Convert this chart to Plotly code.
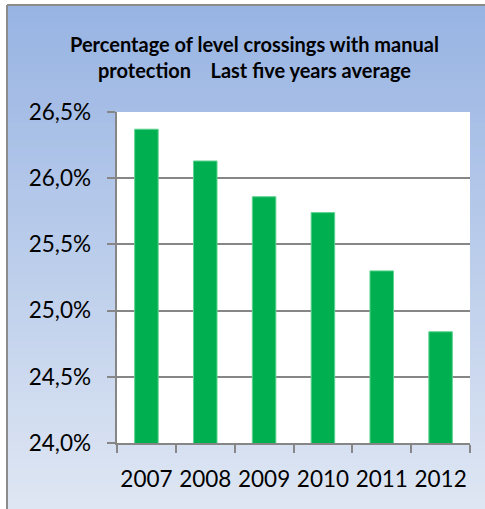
"""
Percentage of level crossings with manual protection
"""

import plotly.graph_objects as go

years = ["2007", "2008", "2009", "2010", "2011", "2012"]
share_manual = [26.37, 26.13, 25.86, 25.74, 25.30, 24.84]
y_ticks = [24.0, 24.5, 25.0, 25.5, 26.0, 26.5]
y_tick_labels = ["24,0%", "24,5%", "25,0%", "25,5%", "26,0%", "26,5%"]

title = (
    "<b>Percentage of level crossings with manual<br>"
    "protection\u00a0\u00a0\u00a0\u00a0Last five years average</b>"
)

W, H = 485, 509
L, R, T, B = 117, 15, 112, 66
pw, ph = W - L - R, H - T - B


def px_x(px):
    return (px - L) / pw


def px_y(py):
    return (H - B - py) / ph


fig = go.Figure()

fig.add_trace(
    go.Bar(
        x=years,
        y=share_manual,
        marker=dict(color="#00B050", line=dict(color="#5FD38F", width=1)),
        width=0.4,
        hoverinfo="skip",
    )
)

# gradient background (blue -> pale), drawn as thin bands
top_c = (152, 180, 227)
bot_c = (222, 230, 243)
n = 60
y0, y1 = 5, H
shapes = []
for i in range(n):
    t = i / (n - 1)
    c = tuple(round(a + (b - a) * t) for a, b in zip(top_c, bot_c))
    ya = y0 + (y1 - y0) * i / n
    yb = min(y0 + (y1 - y0) * (i + 1) / n + 1, H)
    shapes.append(
        dict(
            type="rect", xref="paper", yref="paper", layer="below",
            x0=px_x(7), x1=px_x(W), y0=px_y(yb), y1=px_y(ya),
            fillcolor=f"rgb{c}", line_width=0,
        )
    )
# outer border: only the left and top edges are inside the picture
border = dict(color="#8C8C8C", width=2)
shapes.append(dict(type="line", xref="paper", yref="paper", layer="below",
                   x0=px_x(7), x1=px_x(7), y0=px_y(H), y1=px_y(5), line=border))
shapes.append(dict(type="line", xref="paper", yref="paper", layer="below",
                   x0=px_x(7), x1=px_x(W), y0=px_y(5), y1=px_y(5), line=border))
# plot area
shapes.append(
    dict(
        type="rect", xref="paper", yref="paper", layer="below",
        x0=0, x1=1, y0=0, y1=1, fillcolor="white", line_width=0,
    )
)

fig.update_layout(
    width=W,
    height=H,
    margin=dict(l=L, r=R, t=T, b=B),
    paper_bgcolor="white",
    plot_bgcolor="white",
    showlegend=False,
    bargap=0.6,
    shapes=shapes,
    font=dict(family="Lato", color="black"),
    annotations=[
        dict(
            text=title, xref="paper", yref="paper",
            x=px_x(254), y=px_y(57), xanchor="center", yanchor="middle",
            showarrow=False, font=dict(size=20, family="Lato", color="black"),
        )
    ],
)

fig.update_xaxes(
    showline=True, linecolor="#868686", linewidth=2,
    ticks="outside", tickson="boundaries", ticklen=8, tickcolor="#868686", tickwidth=2,
    tickfont=dict(size=22.5), ticklabelstandoff=15, tickangle=0, automargin=False,
    showgrid=False,
)
fig.update_yaxes(
    range=[24.0, 26.5],
    tickvals=y_ticks, ticktext=[t + "\u00a0\u00a0" for t in y_tick_labels],
    showline=True, linecolor="#868686", linewidth=2,
    ticks="outside", ticklen=8, tickcolor="#868686", tickwidth=2,
    tickfont=dict(size=22.5), automargin=False,
    showgrid=True, gridcolor="#868686", gridwidth=2,
    zeroline=False,
)

fig.write_html(
    "out.html",
    config={"displayModeBar": False},
    post_script="document.body.style.margin='0';",
)
